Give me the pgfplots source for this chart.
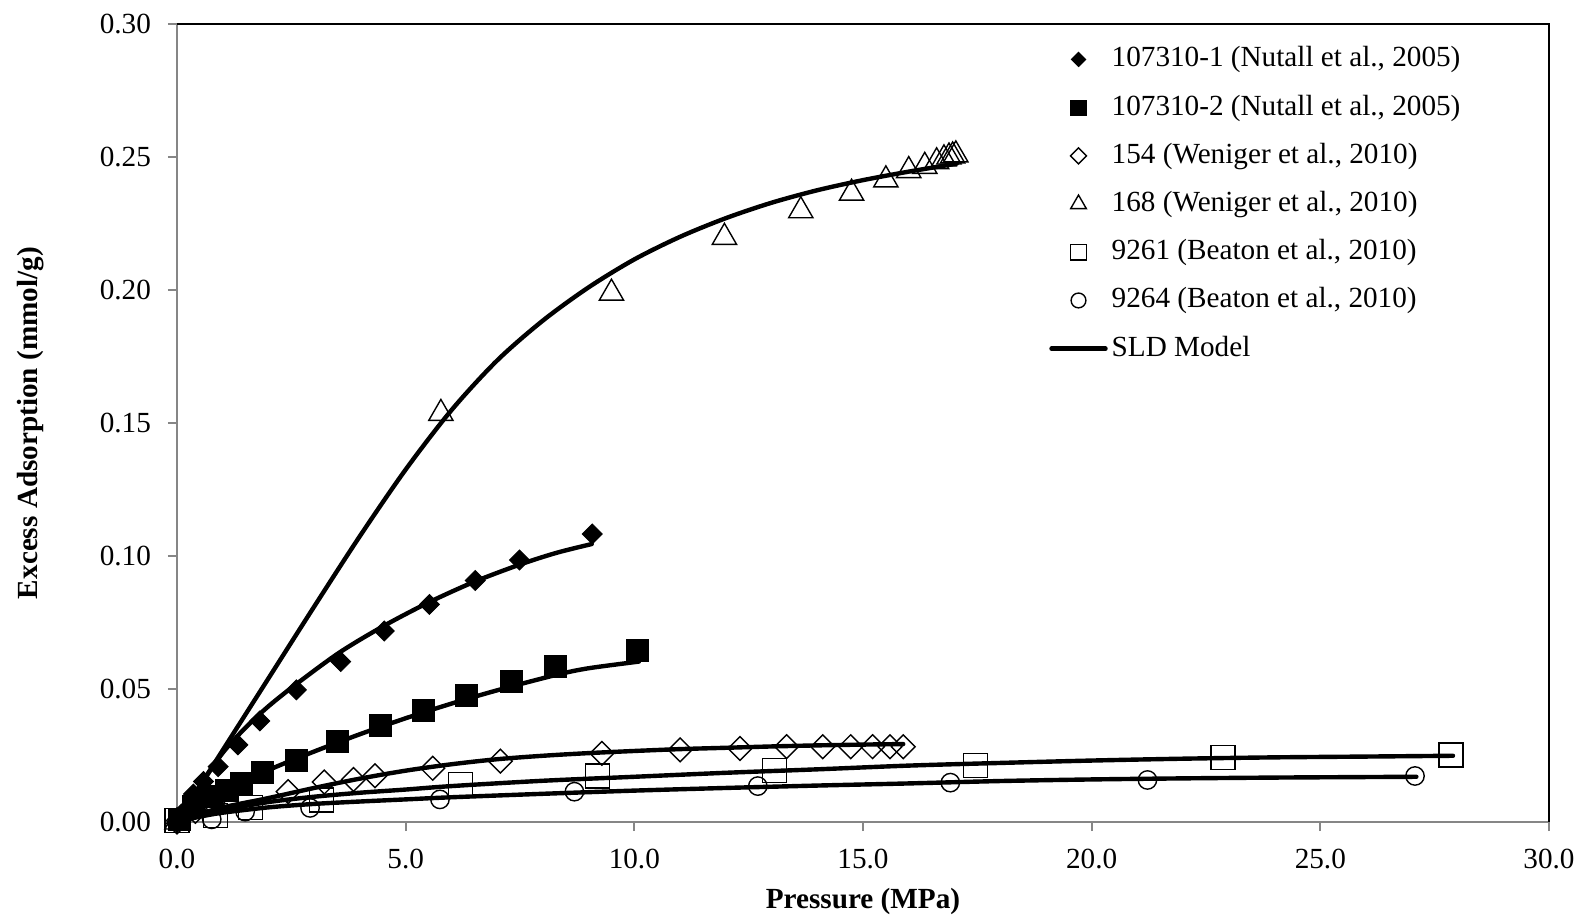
\documentclass[border=0pt]{standalone}
\usepackage{fontspec}
\setmainfont{Liberation Serif}
\usepackage{pgfplots}
\pgfplotsset{compat=1.18}
\definecolor{axgray}{HTML}{868686}
\pgfplotsset{
  markleg/.style={legend image code/.code={\path[draw=none,fill=none] (0pt,-1pt) rectangle (27pt,1pt); \draw[##1, mark size=#1] plot coordinates {(13.5pt,0pt)};}},
  lineleg/.style={legend image code/.code={\draw[##1] (0pt,0pt) -- (27pt,0pt);}},
  sld/.style={black, line width=2.2pt, line join=round, line cap=round, smooth, tension=0.5, no markers},
}
\begin{document}
\fontsize{14.6}{17}\selectfont
\begin{tikzpicture}
\useasboundingbox (0,0) rectangle (792.5pt,458pt);
\begin{axis}[
  at={(88.5pt,47pt)}, anchor=south west,
  scale only axis, width=686pt, height=399pt,
  xmin=0, xmax=30, ymin=0, ymax=0.30,
  xtick={0,5,10,15,20,25,30},
  ytick={0,0.05,0.10,0.15,0.20,0.25,0.30},
  scaled ticks=false,
  clip=false,
  axis x line*=bottom, axis y line*=left,
  axis line style={axgray, line width=1.3pt},
  tick align=outside, major tick length=4.5pt,
  tick style={axgray, line width=1pt},
  x tick label style={/pgf/number format/fixed, /pgf/number format/fixed zerofill, /pgf/number format/precision=1, /pgf/number format/assume math mode=true, yshift=-4pt},
  y tick label style={/pgf/number format/fixed, /pgf/number format/fixed zerofill, /pgf/number format/precision=2, /pgf/number format/assume math mode=true, xshift=-3.5pt},
  tick label style={font=\fontsize{14.6}{17}\selectfont, text=black},
  xlabel={Pressure (MPa)},
  ylabel={Excess Adsorption (mmol/g)},
  label style={font=\fontsize{14.6}{17}\selectfont\bfseries},
  xlabel style={at={([yshift=-39.5pt]axis description cs:0.5,0)}, anchor=center},
  ylabel style={at={([xshift=-73pt]axis description cs:0,0.5)}, anchor=center},
  legend style={at={(rel axis cs:0.6355,0.978)}, anchor=north west, draw=none, fill=none,
    inner sep=0pt, row sep=6.6pt, font=\fontsize{14.6}{17}\selectfont,
    nodes={inner sep=2pt, text height=10.5pt, text depth=3pt}},
  legend cell align=left,
]
% 107310-1
\addplot[only marks, mark=square*, mark size=3.5pt, mark options={rotate=45, fill=black, draw=black, line width=0.5pt}, markleg=2.5pt] coordinates {
(0.10,0.0030) (0.36,0.0105) (0.58,0.0152) (0.90,0.0208) (1.33,0.0290) (1.81,0.0380)
(2.61,0.0497) (3.58,0.0603) (4.53,0.0718) (5.52,0.0818) (6.52,0.0908) (7.49,0.0985) (9.08,0.1083)};
\addlegendentry{107310-1 (Nutall et al., 2005)}
% 107310-2
\addplot[only marks, mark=square*, mark size=5.5pt, mark options={fill=black, draw=black, line width=0.5pt}, markleg=3.8pt] coordinates {
(0.05,0.0010) (0.36,0.0058) (0.75,0.0095) (1.09,0.0120) (1.42,0.0145) (1.87,0.0186) (2.62,0.0233)
(3.51,0.0302) (4.45,0.0361) (5.39,0.0421) (6.33,0.0477) (7.32,0.0527) (8.28,0.0584) (10.08,0.0643)};
\addlegendentry{107310-2 (Nutall et al., 2005)}
% 154
\addplot[only marks, mark=square, mark size=4.2pt, mark options={rotate=45, draw=black, line width=0.7pt}, markleg=2.8pt] coordinates {
(0.00,0.0000) (0.40,0.0040) (0.79,0.0070) (2.43,0.0114) (3.22,0.0150) (3.86,0.0160) (4.33,0.0174)
(5.59,0.0202) (7.07,0.0229) (9.29,0.0258) (11.00,0.0271) (12.31,0.0276) (13.33,0.0283)
(14.12,0.0283) (14.73,0.0283) (15.21,0.0283) (15.59,0.0283) (15.88,0.0283)};
\addlegendentry{154 (Weniger et al., 2010)}
% 168
\addplot[only marks, mark=triangle, mark size=7pt, mark options={draw=black, line width=0.7pt}, markleg=4.5pt] coordinates {
(0.00,0.0000) (5.77,0.1536) (9.50,0.1988) (11.97,0.2198) (13.64,0.2298) (14.75,0.2364)
(15.50,0.2414) (16.00,0.2449) (16.35,0.2465) (16.61,0.2482) (16.77,0.2493) (16.88,0.2500)
(16.96,0.2504) (17.03,0.2508)};
\addlegendentry{168 (Weniger et al., 2010)}
% 9261
\addplot[only marks, mark=square, mark size=6pt, mark options={draw=black, line width=0.7pt}, markleg=3.9pt] coordinates {
(0.00,0.0005) (0.84,0.0025) (1.61,0.0055) (3.16,0.0082) (6.20,0.0142) (9.19,0.0173)
(13.06,0.0193) (17.46,0.0213) (22.87,0.0243) (27.86,0.0252)};
\addlegendentry{9261 (Beaton et al., 2010)}
% 9264
\addplot[only marks, mark=o, mark size=4.6pt, mark options={draw=black, line width=0.7pt}, markleg=3.7pt] coordinates {
(0.00,0.0000) (0.76,0.0010) (1.49,0.0039) (2.91,0.0053) (5.75,0.0085) (8.69,0.0114)
(12.70,0.0135) (16.91,0.0148) (21.22,0.0158) (27.07,0.0173)};
\addlegendentry{9264 (Beaton et al., 2010)}
% SLD model curves
\addplot[sld, lineleg] coordinates {
(0,0) (1,0.027) (2,0.054) (3,0.081) (4,0.1075) (5,0.1325) (6,0.1548) (7,0.1735) (8,0.1885)
(9,0.2010) (10,0.2115) (11,0.2200) (12,0.2270) (13,0.2328) (14,0.2375) (15,0.2413)
(16,0.2445) (17.05,0.2475)};
\addlegendentry{SLD Model}
\addplot[sld, forget plot] coordinates {
(0,0) (0.5,0.0135) (1,0.026) (1.5,0.0355) (2,0.0435) (2.62,0.0520) (3.56,0.0638) (4.53,0.0738)
(5.51,0.0826) (6.5,0.0903) (7.5,0.0968) (8.3,0.1012) (9.07,0.1045)};
\addplot[sld, forget plot] coordinates {
(0,0) (0.5,0.006) (1,0.011) (2,0.0195) (3,0.0265) (4,0.033) (5,0.039) (6,0.0445) (7,0.0495)
(8.29,0.0553) (9,0.0578) (10.1,0.0603)};
\addplot[sld, forget plot] coordinates {
(0,0) (0.5,0.003) (1,0.0055) (2,0.009) (3,0.0128) (4,0.0163) (5,0.0193) (6,0.0217) (7,0.0236)
(8,0.0249) (9,0.0259) (10,0.0267) (11,0.0274) (12,0.0279) (13,0.0284) (14,0.0288) (15,0.0291) (15.88,0.0293)};
\addplot[sld, forget plot] coordinates {
(0,0) (0.5,0.0025) (1,0.0045) (2,0.0075) (3,0.0095) (4,0.011) (5,0.0122) (6,0.0135) (8,0.0155)
(10,0.017) (12,0.0185) (14,0.0198) (16,0.0212) (18,0.0222) (20,0.0231) (22,0.0238) (24,0.0243)
(26,0.0246) (27.9,0.0249)};
\addplot[sld, forget plot] coordinates {
(0,0) (0.5,0.002) (1,0.0035) (2,0.0055) (3,0.0068) (4,0.0077) (5,0.0085) (6,0.0093) (8,0.0106)
(10,0.0118) (12,0.0128) (14,0.0137) (16,0.0145) (18,0.0154) (20,0.016) (22,0.0164) (24,0.0167)
(26,0.0169) (27.1,0.017)};
\draw[black, line width=0.7pt] (rel axis cs:0,1) -- (rel axis cs:1,1) -- (rel axis cs:1,0);
\end{axis}
\end{tikzpicture}
\end{document}
